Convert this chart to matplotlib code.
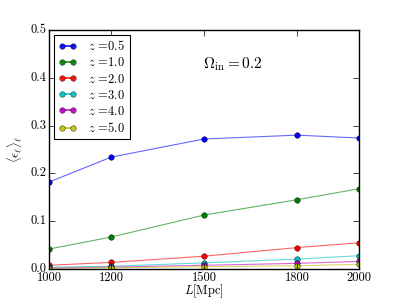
import matplotlib
matplotlib.use("Agg")
import matplotlib.pyplot as plt

plt.style.use('classic')
plt.rcParams['mathtext.fontset'] = 'cm'
plt.rcParams['font.family'] = 'serif'
plt.rcParams['font.serif'] = ['cmr10', 'DejaVu Serif']
plt.rcParams['axes.formatter.use_mathtext'] = True

L = [1000, 1200, 1500, 1800, 2000]
z_labels = ['0.5', '1.0', '2.0', '3.0', '4.0', '5.0']
colors = ['b', 'g', 'r', 'c', 'm', 'y']

eps_05 = [0.182, 0.234, 0.272, 0.280, 0.274]
eps_10 = [0.042, 0.067, 0.113, 0.145, 0.168]
eps_20 = [0.008, 0.014, 0.027, 0.045, 0.055]
eps_30 = [0.004, 0.006, 0.013, 0.021, 0.028]
eps_40 = [0.002, 0.004, 0.008, 0.012, 0.016]
eps_50 = [0.001, 0.003, 0.005, 0.007, 0.010]
series = [eps_05, eps_10, eps_20, eps_30, eps_40, eps_50]

fig = plt.figure(figsize=(3.99, 2.99), dpi=100)
ax = fig.add_subplot(111)
fig.subplots_adjust(left=0.123, right=0.9, bottom=0.1, top=0.9)

for zl, c, y in zip(z_labels, colors, series):
    ax.plot(L, y, '-', color=c, lw=0.8, alpha=0.6)
    ax.plot(L, y, 'o', color=c, ms=4, mec='k', mew=0.3)
    ax.plot([], [], '-o', color=c, lw=1.2, ms=4, mec='k', mew=0.3, alpha=0.9,
            label=r'$z$ =' + zl)

ax.set_xlim(1000, 2000)
ax.set_ylim(0, 0.5)
ax.set_xticks(L)
ax.set_xticklabels([str(v) for v in L])
ax.set_yticks([0.0, 0.1, 0.2, 0.3, 0.4, 0.5])
ax.set_yticklabels(['0.0', '0.1', '0.2', '0.3', '0.4', '0.5'])
ax.tick_params(labelsize=9, pad=2)
ax.set_xlabel(r'$L[\mathrm{Mpc}]$', fontsize=9, labelpad=-1)
ax.set_ylabel(r'$\langle \epsilon_\ell \rangle_\ell$', fontsize=9, labelpad=4)
ax.text(0.495, 0.84, r'$\Omega_{\mathrm{in}} = 0.2$', transform=ax.transAxes, fontsize=11)

leg = ax.legend(loc='upper left', fontsize=9, numpoints=2, handlelength=1.5,
                handletextpad=0.9, labelspacing=0.25, borderpad=0.35,
                borderaxespad=0.4)
leg.get_frame().set_linewidth(0.8)

fig.savefig('out.png', dpi=100)
